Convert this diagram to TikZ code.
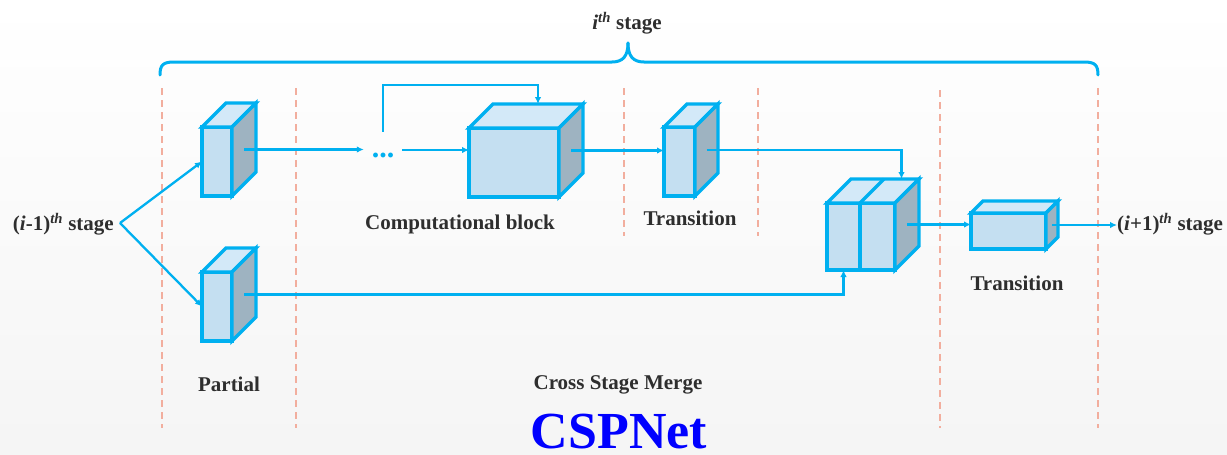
\documentclass[tikz,border=0pt]{standalone}
\usepackage{fontspec}
\setmainfont{Liberation Serif}
\usetikzlibrary{arrows.meta,calc}
\definecolor{cy}{HTML}{00B0F0}
\definecolor{frontc}{HTML}{C4DFF1}
\definecolor{topc}{HTML}{D3E9F8}
\definecolor{sidec}{HTML}{9EB3C1}
\definecolor{dashc}{HTML}{F2AE9E}
\definecolor{txt}{HTML}{2E2E2E}
\definecolor{titleblue}{HTML}{0000FF}
\newcommand\cuboid[6]{%
  \node[frontface, minimum width=#4pt, minimum height=#5pt] (#1) at (#2,#3) {};
  \draw[blockline, fill=topc] (#1.north west) -- ++(#6,-#6) -- ++(#4,0) -- (#1.north east) -- cycle;
  \draw[blockline, fill=sidec] (#1.north east) -- ++(#6,-#6) -- ++(0,#5) -- (#1.south east) -- cycle;
}
\begin{document}
\begin{tikzpicture}[x=1pt,y=-1pt,
  blockline/.style={draw=cy, line width=3.4pt},
  frontface/.style={draw=cy, line width=3.4pt, fill=frontc, inner sep=0pt, outer sep=0pt},
  conn/.style={draw=cy, line width=2.3pt, -{Latex[length=7pt,width=6.5pt]}},
  divider/.style={draw=dashc, line width=2pt, dash pattern=on 7pt off 5pt},
  lbl/.style={text=txt, font=\fontsize{21}{25}\selectfont\bfseries, inner sep=0pt},
  bracepath/.style={draw=cy, line width=3pt, line cap=round}]
\useasboundingbox (0,0) rectangle (1227,455);
\fill[top color=white, bottom color=black!4] (0,0) rectangle (1227,455);

% stage dividers
\draw[divider] (162,88) -- (162,428);
\draw[divider] (296,88) -- (296,428);
\draw[divider] (624,88) -- (624,236);
\draw[divider] (758,88) -- (758,236);
\draw[divider] (940,90) -- (940,428);
\draw[divider] (1098,88) -- (1098,428);

% brace
\draw[bracepath] (160,75) .. controls (160,65) and (163,62) .. (174,62) -- (612,62)
  .. controls (623,62) and (628,56) .. (628,43);
\draw[bracepath] (1098,75) .. controls (1098,65) and (1095,62) .. (1084,62) -- (644,62)
  .. controls (633,62) and (628,56) .. (628,43);
\node[lbl] (stage) at (627,23) {\textit{i}\textsuperscript{\textit{th}} stage};

% blocks
\cuboid{p1}{217}{161.5}{30}{69}{24}
\cuboid{p2}{217}{306.5}{30}{69}{24}
\cuboid{cb}{514}{162.5}{90}{69}{24}
\cuboid{t1}{679.5}{161.5}{31}{69}{23}
\node[frontface, minimum width=33pt, minimum height=67pt] (m1) at (843.5,236.5) {};
\node[frontface, minimum width=35pt, minimum height=67pt] (m2) at (877.5,236.5) {};
\draw[blockline, fill=topc] (m1.north west) -- ++(24,-24) -- ++(68,0) -- (m2.north east) -- cycle;
\draw[blockline] (m2.north west) -- ++(24,-24);
\draw[blockline, fill=sidec] (m2.north east) -- ++(24,-24) -- ++(0,67) -- (m2.south east) -- cycle;
\cuboid{t2}{1008.5}{231}{75}{36}{12}

% text
\node[lbl, anchor=east] (prev) at (114,224) {(\textit{i}-1)\textsuperscript{\textit{th}} stage};
\node[lbl, anchor=west] (next) at (1117,224) {(\textit{i}+1)\textsuperscript{\textit{th}} stage};
\node[lbl] (lcb) at (460,224) {Computational block};
\node[lbl] (lt1) at (690,218) {Transition};
\node[lbl] (lt2) at (1017,283) {Transition};
\node[lbl] (lpa) at (229,384) {Partial};
\node[lbl] (lcsm) at (618,385) {Cross Stage Merge};
\node[text=titleblue, font=\fontsize{52}{56}\selectfont\bfseries, inner sep=0pt, anchor=base] (title) at (619,448) {CSPNet};
\node[text=cy, font=\fontsize{30}{34}\selectfont\bfseries, inner sep=0pt, minimum width=38pt, minimum height=36pt] (dots) at (383,150) {\raisebox{-7.5pt}[0pt][0pt]{...}};

% helper coordinates
\coordinate (split) at (120,223);
\coordinate (p1s) at ($(p1.east)+(12,-12)$);
\coordinate (p2s) at ($(p2.east)+(12,-12)$);
\coordinate (cbs) at ($(cb.east)+(12,-12)$);
\coordinate (t1s) at ($(t1.east)+(11.5,-11.5)$);
\coordinate (m2s) at ($(m2.east)+(12,-12)$);
\coordinate (t2s) at ($(t2.east)+(6,-6)$);
\coordinate (cbtop) at ($(cb.north)+(24,-24)$);
\coordinate (m2top) at ($(m2.north)+(24,-24)$);
\coordinate (loopc) at (383,85);

% connectors
\draw[conn] (split) -- (p1.west);
\draw[conn] (split) -- (p2.west);
\draw[conn] (p1s) -- (p1s -| dots.west);
\draw[conn] (dots.east) -- (dots.east -| cb.west);
\draw[conn] (dots.north) -- (loopc) -| (cbtop);
\draw[conn] (cbs) -- (cbs -| t1.west);
\draw[conn] (t1s) -| (m2top);
\draw[conn] (p2s) -| (m1.south);
\draw[conn] (m2s) -- (m2s -| t2.west);
\draw[conn] (t2s) -- (t2s -| next.west);
\end{tikzpicture}
\end{document}
